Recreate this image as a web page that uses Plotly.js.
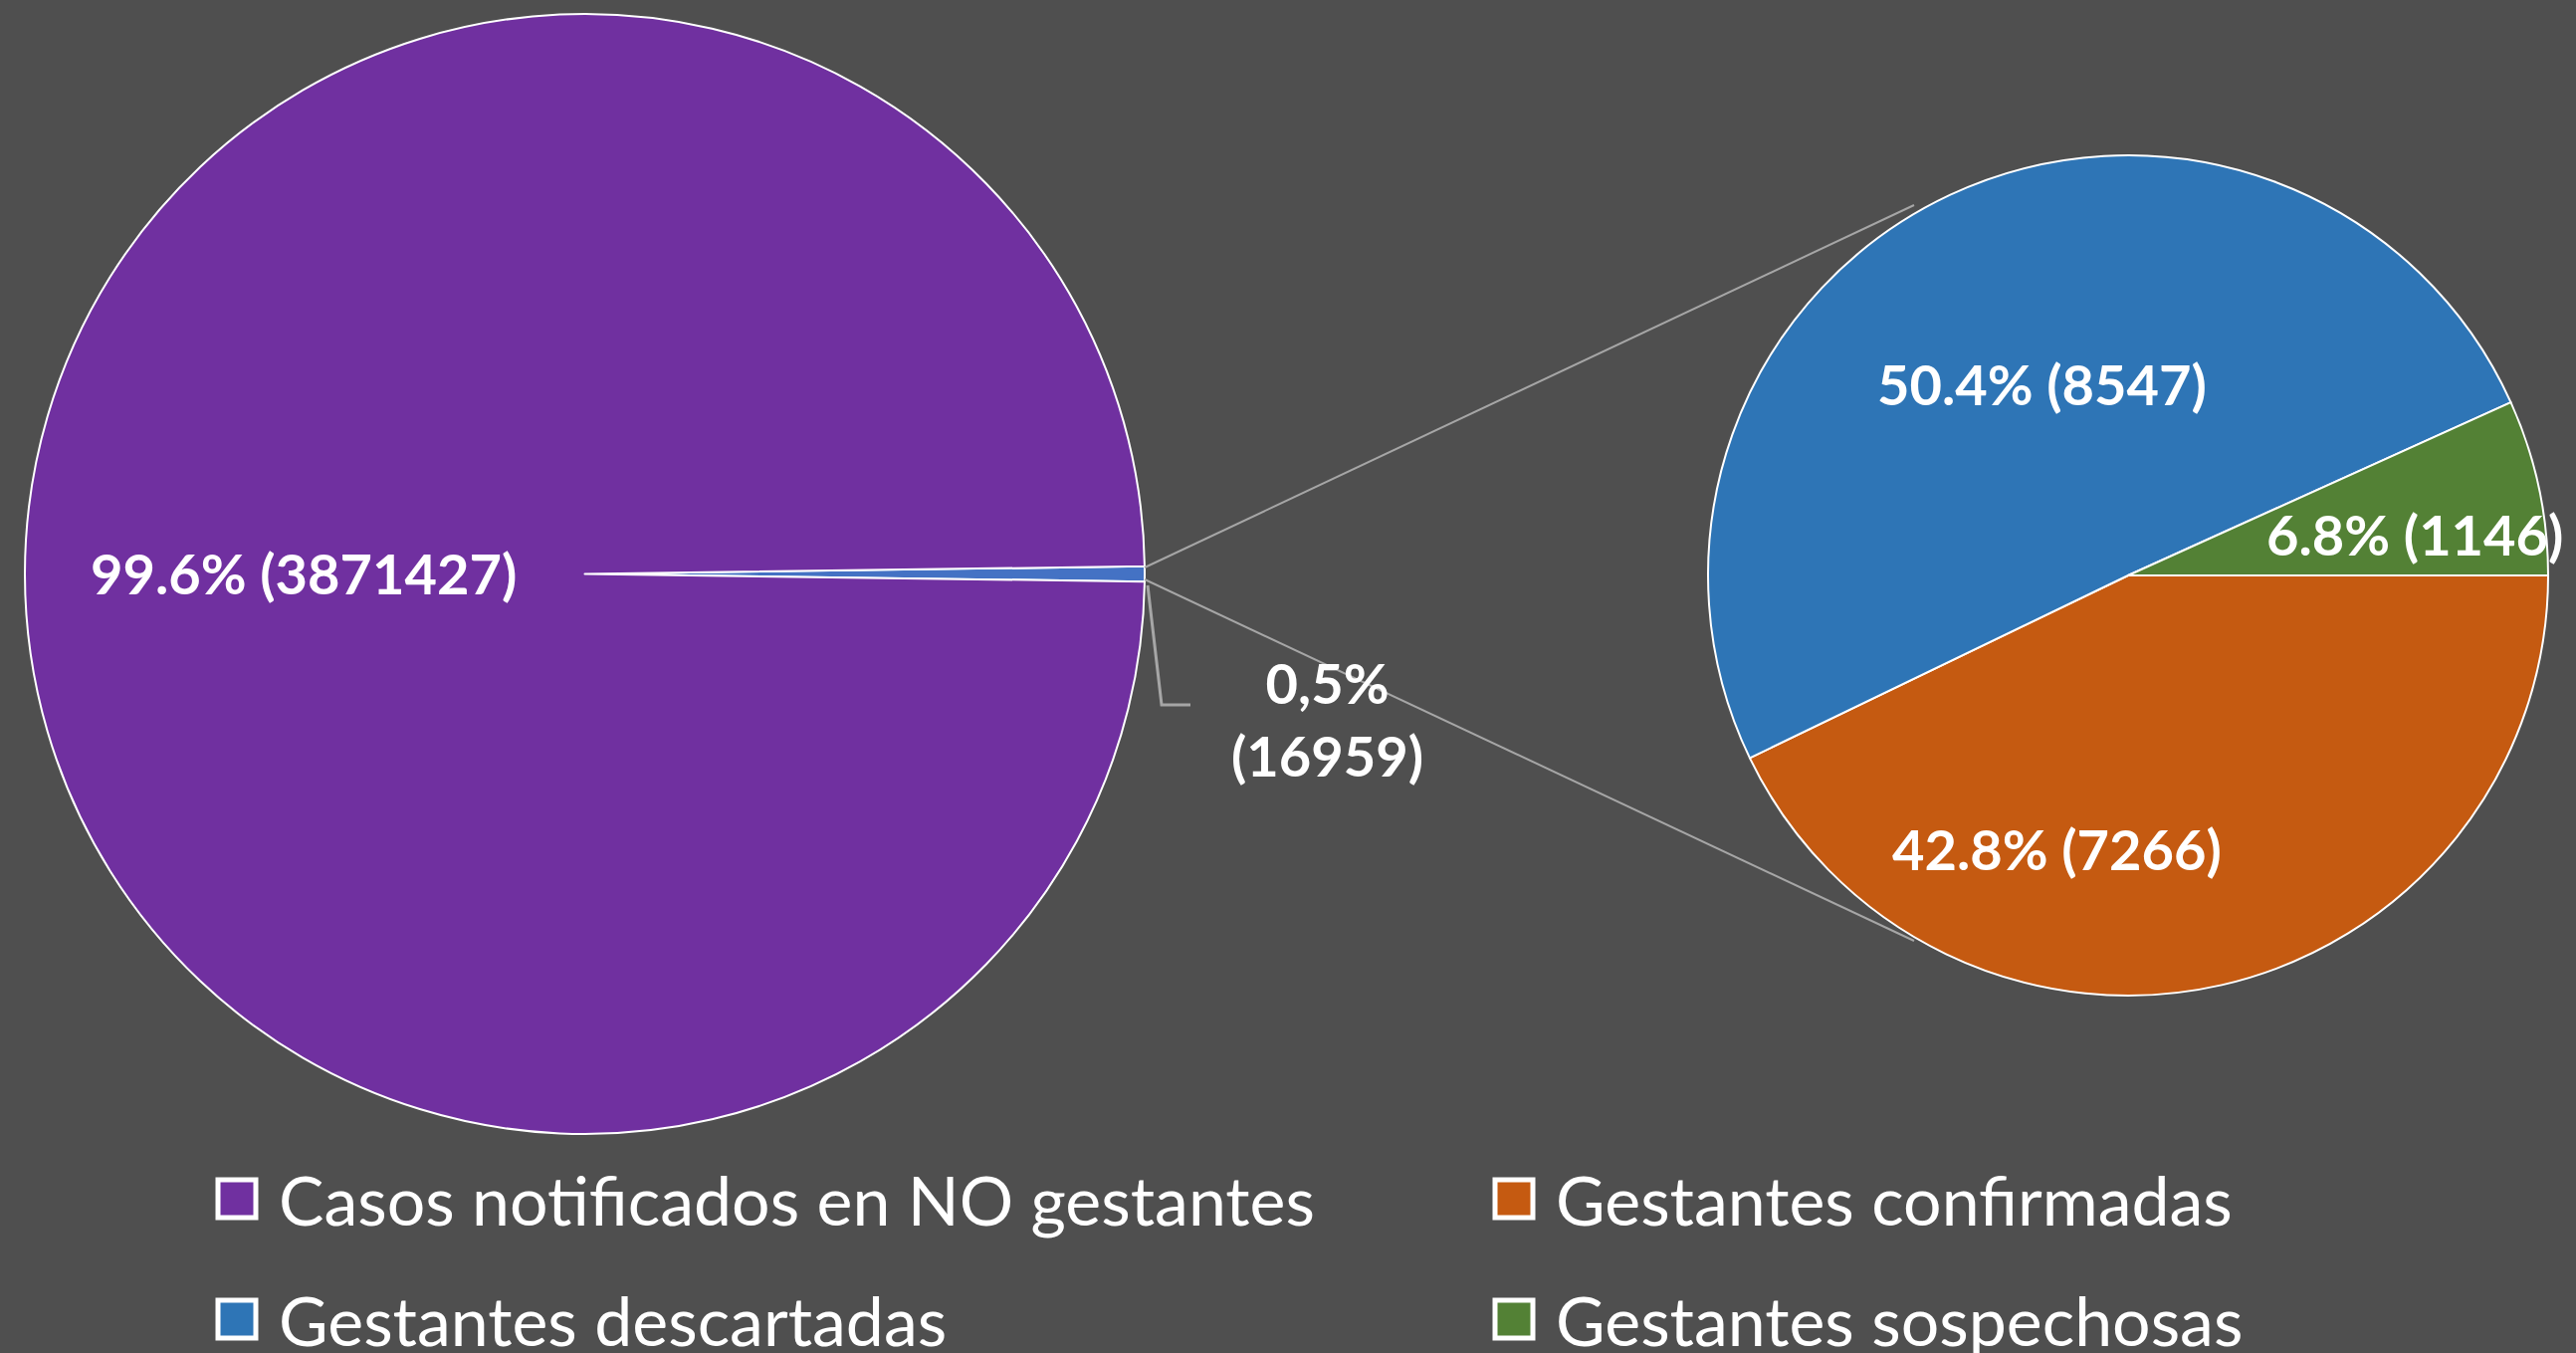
<!DOCTYPE html>
<html>
<head>
<meta charset="utf-8">
<script src="https://cdn.plot.ly/plotly-3.0.1.min.js"></script>
<style>html,body{margin:0;padding:0;background:#4f4f4f;}#chart{width:2588px;height:1359px;}</style>
</head>
<body>
<div id="chart"></div>
<script>
// ---- data ----
const leftLabels = ["Gestantes (total)", "Casos notificados en NO gestantes"];
const leftValues = [16959, 3871427];
const leftPctText = ["0,5%", "99.6%"];
const leftColors = ["#4472c4", "#7030a0"];

const rightLabels = ["Gestantes confirmadas", "Gestantes descartadas", "Gestantes sospechosas"];
const rightValues = [7266, 8547, 1146];
const rightPctText = ["42.8%", "50.4%", "6.8%"];
const rightColors = ["#c55a11", "#2e75b6", "#538135"];

const legendLabels = ["Casos notificados en NO gestantes", "Gestantes confirmadas", "Gestantes descartadas", "Gestantes sospechosas"];
const legendColors = ["#7030a0", "#c55a11", "#2e75b6", "#538135"];

// ---- layout helpers ----
const W = 2588, H = 1359;
const px = x => x / W;
const py = y => 1 - y / H;

const leftTotal = leftValues.reduce((a, b) => a + b, 0);
const smallAngle = leftValues[0] / leftTotal * 360;

const traces = [
  {
    type: "pie",
    values: leftValues,
    labels: leftLabels,
    marker: {colors: leftColors, line: {color: "#ffffff", width: 2}},
    sort: false,
    direction: "clockwise",
    rotation: 90 - smallAngle / 2,
    textinfo: "none",
    hoverinfo: "none",
    showlegend: false,
    domain: {x: [px(25), px(1150)], y: [py(1139), py(14)]}
  },
  {
    type: "pie",
    values: rightValues,
    labels: rightLabels,
    marker: {colors: rightColors, line: {color: "#ffffff", width: 2}},
    sort: false,
    direction: "clockwise",
    rotation: 90,
    textinfo: "none",
    hoverinfo: "none",
    showlegend: false,
    domain: {x: [px(1716), px(2560)], y: [py(1000), py(156)]}
  }
];

const labelFont = {family: "Lato, 'Open Sans', sans-serif", size: 56, color: "#ffffff", weight: "bold"};
const annotations = [];
// main purple slice label
annotations.push({
  x: px(305), y: py(576), xref: "paper", yref: "paper", showarrow: false,
  xanchor: "center", yanchor: "middle",
  text: "<b>" + leftPctText[1] + " (" + leftValues[1] + ")</b>", font: labelFont
});
// small slice label (outside)
annotations.push({
  x: px(1333), y: py(722), xref: "paper", yref: "paper", showarrow: false,
  xanchor: "center", yanchor: "middle",
  text: "<b>" + leftPctText[0] + "</b><br><b>(" + leftValues[0] + ")</b>", font: labelFont
});
// right pie labels
const rightLabelPos = [[2066, 852], [2051, 385], [2426, 536]];
rightValues.forEach((v, i) => {
  annotations.push({
    x: px(rightLabelPos[i][0]), y: py(rightLabelPos[i][1]), xref: "paper", yref: "paper", showarrow: false,
    xanchor: "center", yanchor: "middle",
    text: "<b>" + rightPctText[i] + " (" + v + ")</b>", font: labelFont
  });
});

// legend (manual, 2 x 2)
const legPos = [[238, 1204], [1521, 1204], [238, 1325], [1521, 1325]];
const shapes = [];
legendLabels.forEach((lab, i) => {
  const [cx, cy] = legPos[i];
  shapes.push({
    type: "rect", xref: "paper", yref: "paper",
    x0: px(cx - 19), x1: px(cx + 19), y0: py(cy + 19), y1: py(cy - 19),
    fillcolor: legendColors[i], line: {color: "#ffffff", width: 5}
  });
  annotations.push({
    x: px(cx + 40), y: py(cy), xref: "paper", yref: "paper", showarrow: false,
    xanchor: "left", yanchor: "middle",
    text: lab, font: {family: "Lato, 'Open Sans', sans-serif", size: 68, color: "#ffffff"}
  });
});

// connector lines between pies
const connColor = "#a6a6a6";
shapes.push({type: "line", xref: "paper", yref: "paper", x0: px(1150), y0: py(570), x1: px(1923), y1: py(206), line: {color: connColor, width: 2}});
shapes.push({type: "line", xref: "paper", yref: "paper", x0: px(1150), y0: py(582), x1: px(1923), y1: py(945), line: {color: connColor, width: 2}});
// leader line for the small slice label
shapes.push({
  type: "path", xref: "paper", yref: "paper",
  path: "M " + px(1153) + "," + py(588) + " L " + px(1167) + "," + py(708) + " L " + px(1196) + "," + py(708),
  line: {color: connColor, width: 3}
});

const layout = {
  width: W, height: H,
  margin: {l: 0, r: 0, t: 0, b: 0},
  paper_bgcolor: "#4f4f4f",
  plot_bgcolor: "#4f4f4f",
  showlegend: false,
  shapes: shapes,
  annotations: annotations
};

Plotly.newPlot("chart", traces, layout, {displayModeBar: false, staticPlot: true});
</script>
</body>
</html>
